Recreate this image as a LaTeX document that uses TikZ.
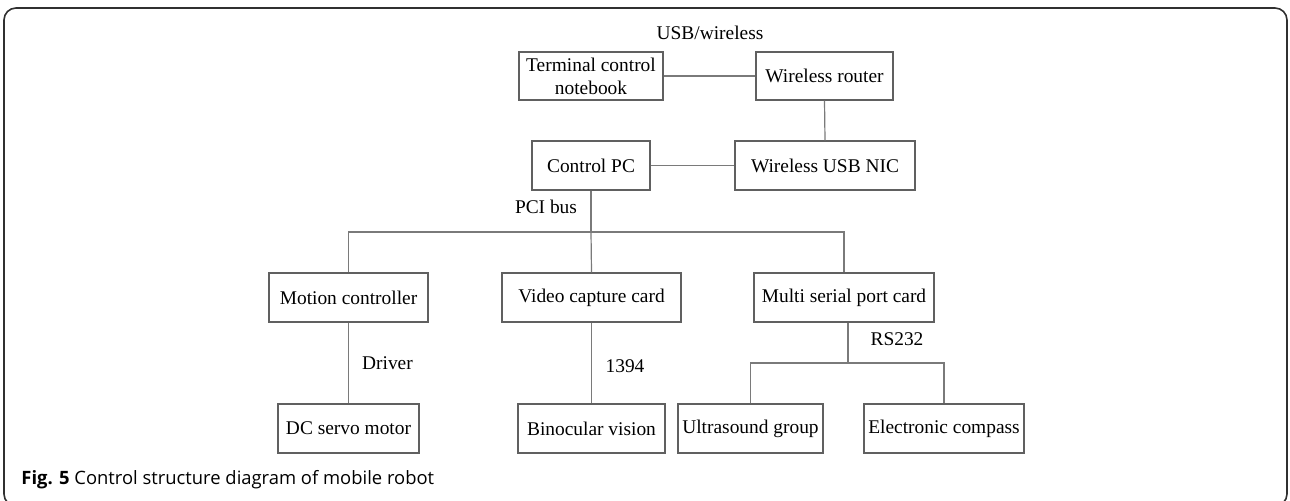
\documentclass[tikz,border=0pt]{standalone}
\usepackage{fontspec}
\setmainfont{Liberation Serif}
\newfontfamily\capfont{Open Sans}
\usetikzlibrary{positioning, calc}

\definecolor{boxgray}{HTML}{606060}
\definecolor{wiregray}{HTML}{7A7A7A}
\definecolor{framegray}{HTML}{303030}

\begin{document}
\begin{tikzpicture}[x=0.5pt, y=-0.5pt,
    unit/.style={draw=boxgray, line width=0.6pt, inner sep=0pt, align=center,
                 font=\fontsize{9.7}{11.5}\selectfont},
    wire/.style={draw=wiregray, line width=0.6pt},
    lbl/.style={inner sep=0pt, font=\fontsize{9.7}{11.5}\selectfont}]
    \useasboundingbox (0,0) rectangle (1290,500);
    % outer frame
    \draw[framegray, line width=0.8pt, rounded corners=6pt] (4,8) rectangle (1287,506);

    % network side
    \node[unit, minimum width=72pt, minimum height=24pt] (note) at (591,76) {Terminal control\\notebook};
    \node[unit, minimum width=68.5pt, minimum height=24pt] (router) at (824.5,76) {Wireless router};
    \node[unit, minimum width=59pt, minimum height=24.5pt] (pc) at (591,165.5) {Control PC};
    \node[unit, minimum width=90pt, minimum height=24.5pt] (nic) at (825,165.5) {Wireless USB NIC};
    \node[lbl] (usblbl) at (710,33) {USB/wireless};
    \draw[wire] (note.east) -- (router.west);
    \draw[wire] (router.south) -- (nic.north);
    \draw[wire] (pc.east) -- (nic.west);

    % PCI bus
    \node[lbl] (pcilbl) at (546,207) {PCI bus};
    \coordinate (pcibus) at (591,232);
    \node[unit, minimum width=79.5pt, minimum height=24.5pt] (motion) at (348.5,297.5) {Motion controller};
    \node[unit, minimum width=89.5pt, minimum height=24.5pt] (video) at (591.5,297.5) {Video capture card};
    \node[unit, minimum width=90pt, minimum height=24.5pt] (multi) at (844,297.5) {Multi serial port card};
    \draw[wire] (pc.south) -- (pcibus);
    \draw[wire] (motion.north) |- (pcibus) -| (multi.north);
    \draw[wire] (pcibus) -- (video.north);

    % devices
    \node[unit, minimum width=70.5pt, minimum height=24.5pt] (servo) at (348.5,428.5) {DC servo motor};
    \node[unit, minimum width=73.5pt, minimum height=24.5pt] (vision) at (591.5,428.5) {Binocular vision};
    \node[unit, minimum width=72.5pt, minimum height=24.5pt] (ultra) at (750.5,428.5) {Ultrasound group};
    \node[unit, minimum width=80pt, minimum height=24.5pt] (compass) at (944,428.5) {Electronic compass};
    \node[lbl] (drvlbl) at (387.5,363) {Driver};
    \node[lbl] (fwlbl) at (625,366) {1394};
    \node[lbl] (rslbl) at (897,339) {RS232};
    \coordinate (rsbus) at (848,363);
    \draw[wire] (motion.south) -- (servo.north);
    \draw[wire] (video.south) -- (vision.north);
    \draw[wire] (rsbus |- multi.south) -- (rsbus);
    \draw[wire] (ultra.north) |- (rsbus) -| (compass.north);

    % caption
    \node[anchor=base west, inner sep=0pt, font=\capfont\fontsize{9.2}{11}\selectfont] (cap) at (21,484)
        {\textbf{Fig. 5} Control structure diagram of mobile robot};
\end{tikzpicture}
\end{document}
